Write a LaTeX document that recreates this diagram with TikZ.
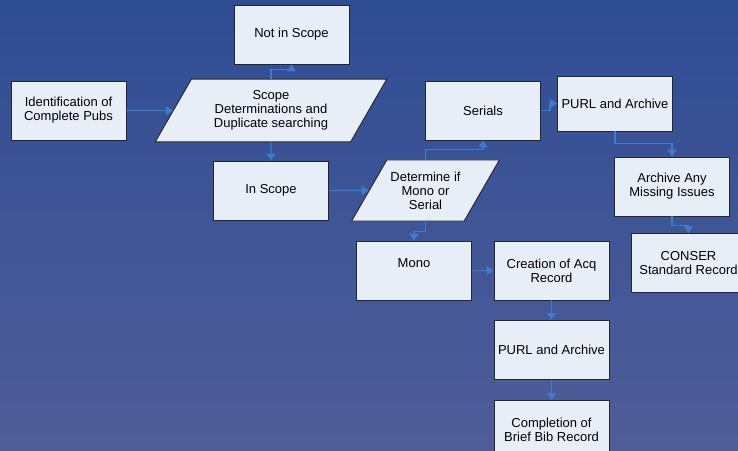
\documentclass[tikz,border=0pt]{standalone}
\usepackage{fontspec}
\setmainfont{Liberation Sans}
\usepackage{tikz}
\usetikzlibrary{shapes.geometric, arrows.meta}
\definecolor{bgtop}{RGB}{47,77,148}
\definecolor{bgbot}{RGB}{80,93,152}
\definecolor{boxfill}{RGB}{232,238,248}
\definecolor{linkblue}{RGB}{62,122,205}
\tikzstyle{block} = [rectangle, draw=black!85, line width=0.9pt, fill=boxfill, minimum width=115pt, minimum height=59pt, align=center, font=\fontsize{13}{14}\selectfont]
\tikzstyle{para} = [trapezium, trapezium left angle=60, trapezium right angle=120, draw=black!85, line width=0.9pt, fill=boxfill, minimum height=59pt, inner xsep=2pt, align=center, font=\fontsize{13}{14}\selectfont]
\tikzstyle{arrow} = [line width=1.3pt, draw=linkblue, -{Triangle[width=9pt,length=7pt]}]

\begin{document}
\begin{tikzpicture}[x=1pt, y=-1pt]
        % Background
        \useasboundingbox (0,0) rectangle (738,450);
        \clip (0,0) rectangle (738,450);
        \shade[top color=bgtop, bottom color=bgbot] (0,0) rectangle (738,450);
        % Scope blocks
        \node[block] (notin) at (291.5,34.5) {Not in Scope};
        \node[block] (ident) at (68.5,110.5) {Identification of\\Complete Pubs};
        \node[para, minimum width=232pt] (scope) at (271,110.5) {Scope\\Determinations and\\Duplicate searching};
        \node[block] (inscope) at (271,190.5) {In Scope};
        \node[para, inner xsep=-7pt, minimum width=148pt] (determine) at (425.5,190.5) {Determine if\\Mono or\\Serial};
        % Serial branch
        \node[block] (serials) at (483,110.5) {Serials};
        \node[block, minimum height=55pt] (purl1) at (615,103.5) {PURL and Archive};
        \node[block] (archive) at (672,186.5) {Archive Any\\Missing Issues};
        \node[block] (conser) at (688.5,263) {CONSER\\Standard Record};
        % Mono branch
        \node[block] (mono) at (414,270.5) {Mono\\\mbox{}};
        \node[block] (creation) at (551.5,270.5) {Creation of Acq\\Record};
        \node[block] (purl2) at (551.5,350) {PURL and Archive};
        \node[block] (completion) at (551.5,430) {Completion of\\Brief Bib Record};
        % Links
        \draw[arrow] (ident.east) -- (scope.west);
        \draw[arrow] (scope.north) -- ++(0,-9) -| (notin.south);
        \draw[arrow] (scope.south) -- (inscope.north);
        \draw[arrow] (inscope.east) -- (determine.west);
        \draw[arrow] (determine.north) -- ++(0,-10) -| (serials.south);
        \draw[arrow] (determine.south) -- ++(0,10) -| (mono.north);
        \draw[arrow] (serials.east) -- ++(9,0) |- (purl1.west);
        \draw[arrow] (purl1.south) -- ++(0,12) -| (archive.north);
        \draw[arrow] (archive.south) -- ++(0,9) -| (conser.north);
        \draw[arrow] (mono.east) -- (creation.west);
        \draw[arrow] (creation.south) -- (purl2.north);
        \draw[arrow] (purl2.south) -- (completion.north);
\end{tikzpicture}
\end{document}
